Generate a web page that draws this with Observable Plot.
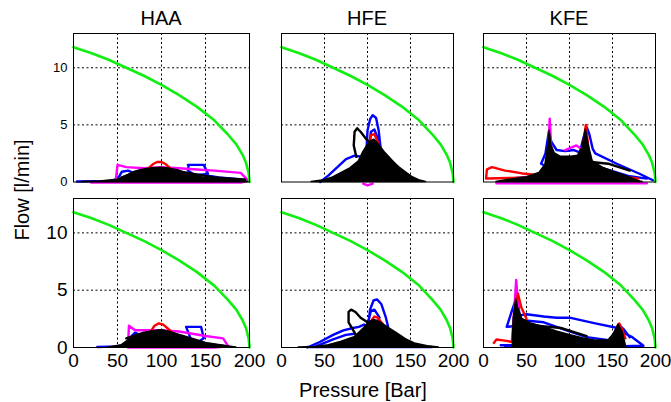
<!DOCTYPE html>
<html><head><meta charset="utf-8">
<script src="https://cdn.jsdelivr.net/npm/d3@7"></script>
<script src="https://cdn.jsdelivr.net/npm/@observablehq/plot@0.6"></script>
<style>
body{margin:0;background:#fff;font-family:"Liberation Sans",Arial,sans-serif;}
#wrap{position:relative;width:671px;height:402px;overflow:hidden;background:#fff;}
.lbl{position:absolute;color:#000;white-space:nowrap;font-size:20px;line-height:20px;}
.panel{position:absolute;}
</style></head><body><div id="wrap"></div>
<script>
// ---- data: [pressure (Bar), flow (l/min)] ----
const titles = ["HAA", "HFE", "KFE"];
const xTicks = [0, 50, 100, 150, 200];
const yTicks = [0, 5, 10];
const gridX = [50, 100, 150];
const gridY = [5, 10];

const pumpP = [0, 20, 40, 60, 80, 100, 120, 140, 160, 175, 185, 192, 196, 199, 200];
const pumpF = [11.8, 11.3, 10.7, 10.0, 9.3, 8.5, 7.6, 6.6, 5.4, 4.2, 3.3, 2.4, 1.7, 0.8, 0];

// HAA, top row
const haaTopBlue = [[4,0.05],[45,0.1],[52,0.5],[55,0.9],[62,1.0],[68,0.8],[75,0.6],null,[130,1.5],[148,1.5],[153,0.7],[138,0.6],[130,1.0],[131,1.5],null,[150,0.6],[165,0.4],[195,0.2]];
const haaTopMagenta = [[48,0.1],[50,1.5],[60,1.3],[80,1.2],[100,1.3],[120,1.2],[140,1.1],[160,1.0],[190,0.8],[199,0.1],[190,-0.05],[100,-0.05],[20,-0.05],[48,0.1]];
const haaTopRed = [[85,1.2],[90,1.55],[95,1.75],[100,1.75],[105,1.55],[110,1.2]];
const haaTopBlack = [[10,0],[30,0.05],[50,0.2],[60,0.5],[70,0.9],[80,1.1],[90,1.2],[100,1.25],[110,1.15],[120,1.0],[130,0.7],[140,0.5],[150,0.35],[170,0.2],[190,0.1],[198,0]];
const haaTopBlackLine = [[55,0.4],[75,1.0],[100,1.2],[130,0.8],[160,0.4],[195,0.2]];

// HAA, bottom row
const haaBotBlue = [[27,0.05],[50,0.1],[60,0.3],[65,0.9],[70,1.3],[78,1.0],[85,0.8],null,[128,1.8],[145,1.8],[148,0.8],[140,0.4],[133,0.8],[128,1.8]];
const haaBotMagenta = [[62,0.2],[63,1.9],[70,1.5],[80,1.5],[100,1.5],[120,1.4],[150,1.0],[170,0.8],[176,0.1],[160,0.0],[62,0.0]];
const haaBotRed = [[88,1.4],[92,1.9],[97,2.1],[102,2.0],[108,1.6],[112,1.3]];
const haaBotBlack = [[40,0],[55,0.2],[62,0.6],[70,0.9],[80,1.2],[90,1.4],[100,1.5],[110,1.35],[120,1.1],[130,0.8],[140,0.5],[150,0.3],[170,0.15],[185,0]];
const haaBotBlackLine = [[60,0.8],[80,1.3],[100,1.5],[125,1.0],[150,0.4],[175,0.1]];

// HFE, top row
const hfeTopBlue = [[98,1.5],[100,4.5],[103,5.5],[106,5.85],[110,5.6],[113,4.5],[116,2.5],[118,1.5],null,[100,2.0],[104,4.4],[108,4.6],[112,3.8],[118,1.5],null,[45,0],[55,0.6],[65,1.3],[75,2.0],[85,2.3],[95,2.2],[100,2.6],null,[55,0.1],[160,0.1]];
const hfeTopMagenta = [[102,2.2],[106,3.6],[110,3.6],[115,2.6],[120,1.5],null,[95,-0.15],[100,-0.3],[106,-0.15]];
const hfeTopRed = [[100,2.0],[104,4.1],[108,4.2],[113,3.3],[118,1.8]];
const hfeTopBlack = [[35,0],[50,0.15],[60,0.4],[70,0.8],[80,1.2],[90,1.8],[95,2.6],[100,3.2],[105,3.6],[108,3.7],[112,3.4],[120,2.6],[130,1.8],[140,1.0],[150,0.5],[160,0.15],[168,0]];
const hfeTopBlackLine = [[87,2.2],[84,3.2],[85,4.4],[88,4.7],[92,4.4],[98,3.8],[105,3.3],[115,2.6],[125,2.0],[136,1.3],[150,0.5]];

// HFE, bottom row
const hfeBotBlue = [[100,1.5],[103,3.3],[107,4.1],[111,4.2],[116,3.8],[121,2.7],[124,1.8],null,[100,2.0],[104,3.2],[108,3.3],[114,2.6],null,[30,0],[45,0.5],[60,1.1],[72,1.5],[83,1.7],[90,1.8],[96,2.0],[100,1.8],null,[40,0.1],[60,0.7],[75,1.1],[85,1.2],null,[30,0.05],[175,0.05]];
const hfeBotMagenta = [[106,2.1],[112,2.4],[118,1.8],[124,1.2]];
const hfeBotRed = [[104,2.3],[108,2.7],[112,2.6],[118,2.0],[122,1.5]];
const hfeBotBlack = [[20,0],[40,0.05],[55,0.2],[70,0.5],[85,0.9],[95,1.6],[102,2.2],[108,2.4],[115,2.2],[125,1.7],[135,1.2],[145,0.7],[155,0.35],[170,0.1],[183,0]];
const hfeBotBlackLine = [[89,0.8],[78,2.2],[78,3.1],[81,3.3],[86,3.1],[92,2.6],[100,2.2],[110,1.9],[120,1.5],[135,0.9],[151,0.35]];

// KFE, top row
const kfeTopBlue = [[67,1.6],[72,2.5],[76,4.4],[79,3.5],[85,2.8],[95,2.7],[105,2.8],[112,2.6],[116,3.8],[120,4.8],[123,4.2],[127,2.9],[130,2.5],[155,1.6],[182,0.7],[197,0.15],null,[67,1.6],[72,1.4],[82,1.2],null,[30,0.3],[60,0.5],[75,0.8],null,[130,1.4],[170,0.5],[190,0.3]];
const kfeTopMagenta = [[75,2.5],[77,5.55],[79,2.5],null,[15,-0.12],[190,-0.12],null,[95,2.8],[108,3.2],[112,3.0]];
const kfeTopRed = [[3,0.3],[4,1.1],[10,1.3],[25,1.0],[45,0.75],[65,0.6],null,[4,0.3],[30,0.35],[55,0.4],null,[115,2.8],[119,5.0],[122,3.0],null,[150,0.6],[180,0.3]];
const kfeTopBlack = [[15,0],[30,0.2],[50,0.4],[65,0.8],[72,1.5],[75,3.0],[77,4.5],[79,3.2],[83,2.5],[90,2.2],[100,2.2],[110,2.3],[115,3.0],[119,4.6],[122,3.3],[127,1.8],[140,1.2],[155,0.8],[170,0.4],[180,0.1],[185,0]];
const kfeTopBlackLine = [[120,1.8],[145,1.6],[170,1.0]];

// KFE, bottom row
const kfeBotBlue = [[27,1.8],[33,3.2],[39,4.5],[42,2.8],[50,2.9],[70,2.7],[85,2.6],[100,2.6],[130,2.1],[156,1.7],[165,1.2],[173,0.9],[186,0.15],[150,0.1],[25,0.1],null,[27,1.8],[40,1.9],[48,1.7],null,[42,2.4],[70,2.2],[100,1.4],[120,0.9],[150,0.6],null,[150,1.0],[157,2.0],[163,1.6],[170,0.9],null,[20,0.2],[35,0.2]];
const kfeBotMagenta = [[33,0.6],[36,3.5],[38,5.9],[40,4.0],[42,2.0]];
const kfeBotRed = [[12,0.4],[15,0.7],[25,0.6],[32,0.5],null,[37,3.0],[40,4.7],[44,3.5],[50,2.5],null,[150,0.8],[155,1.7],[158,2.1],[161,1.6],[165,0.8]];
const kfeBotBlack = [[34,0],[35,2.5],[38,4.2],[40,3.5],[45,2.5],[55,2.1],[70,1.8],[85,1.4],[100,1.1],[115,0.8],[130,0.6],[145,0.6],[152,1.2],[157,2.0],[162,1.3],[166,0]];
const kfeBotBlackLine = [[45,1.5],[80,1.3],[110,0.8],[150,0.3],null,[50,2.0],[90,1.7],[120,1.0]];

// ---- layout ----
const panels = [
  {col:0,row:0,blue:haaTopBlue,magenta:haaTopMagenta,red:haaTopRed,black:haaTopBlack,blackLine:haaTopBlackLine},
  {col:1,row:0,blue:hfeTopBlue,magenta:hfeTopMagenta,red:hfeTopRed,black:hfeTopBlack,blackLine:hfeTopBlackLine},
  {col:2,row:0,blue:kfeTopBlue,magenta:kfeTopMagenta,red:kfeTopRed,black:kfeTopBlack,blackLine:kfeTopBlackLine},
  {col:0,row:1,blue:haaBotBlue,magenta:haaBotMagenta,red:haaBotRed,black:haaBotBlack,blackLine:haaBotBlackLine},
  {col:1,row:1,blue:hfeBotBlue,magenta:hfeBotMagenta,red:hfeBotRed,black:hfeBotBlack,blackLine:hfeBotBlackLine},
  {col:2,row:1,blue:kfeBotBlue,magenta:kfeBotMagenta,red:kfeBotRed,black:kfeBotBlack,blackLine:kfeBotBlackLine}
];
const colsPx = [[73,249],[281,453],[483,655]];
const rowsPx = [[33,181.5],[198,347]];

const wrap = document.getElementById("wrap");
const pump = pumpP.map((p,i)=>[p,pumpF[i]]);
const px = d => d ? d[0] : NaN;
const py = d => d ? d[1] : NaN;

for (const pn of panels) {
  const [l,r] = colsPx[pn.col];
  const [t,b] = rowsPx[pn.row];
  const ml = pn.col === 0 ? 50 : 1;
  const mr = 1, mt = 1;
  const mb = pn.row === 1 ? 30 : 1;
  const fs = pn.row === 1 ? 19 : 13;
  const lineOpts = (data, c) => Plot.line(data, {x:px, y:py, stroke:c, strokeWidth:2.4, curve:"linear"});
  const chart = Plot.plot({
    width: (r-l)+ml+mr,
    height: (b-t)+mt+mb,
    marginLeft: ml, marginRight: mr, marginTop: mt, marginBottom: mb,
    style: {background:"transparent", overflow:"visible", fontSize: fs+"px", fontFamily:'"Liberation Sans", Arial, sans-serif', color:"#000"},
    x: {domain:[0,200], ticks:xTicks, tickSize:0, tickPadding:6, axis: pn.row===1 ? "bottom" : null, label:null, tickFormat:d=>String(d)},
    y: {domain:[0,13], ticks:yTicks, tickSize:0, tickPadding:6, axis: pn.col===0 ? "left" : null, label:null, tickFormat:d=>String(d)},
    marks: [
      Plot.ruleX(gridX, {stroke:"#000", strokeWidth:1, strokeDasharray:"2,2.5"}),
      Plot.ruleY(gridY, {stroke:"#000", strokeWidth:1, strokeDasharray:"2,2.5"}),
      lineOpts(pn.blue, "#0000ff"),
      lineOpts(pn.magenta, "#ff00ff"),
      lineOpts(pn.red, "#ff0000"),
      Plot.areaY(pn.black, {x:px, y:py, fill:"#000", stroke:"#000", strokeWidth:1.5}),
      lineOpts(pn.blackLine, "#000"),
      Plot.line(pump, {x:px, y:py, stroke:"#11ee11", strokeWidth:2.6}),
      Plot.frame({stroke:"#000", strokeWidth:1})
    ]
  });
  chart.classList.add("panel");
  chart.style.left = (l-ml)+"px";
  chart.style.top = (t-mt)+"px";
  wrap.appendChild(chart);
}

// titles and axis labels
titles.forEach((s,i)=>{
  const d = document.createElement("div");
  d.className = "lbl";
  d.textContent = s;
  const cx = (colsPx[i][0]+colsPx[i][1])/2;
  d.style.left = cx+"px"; d.style.top = "8px"; d.style.transform = "translateX(-50%)";
  wrap.appendChild(d);
});
const xl = document.createElement("div");
xl.className = "lbl"; xl.textContent = "Pressure [Bar]";
xl.style.left = "363px"; xl.style.top = "380px"; xl.style.transform = "translateX(-50%)";
wrap.appendChild(xl);
const yl = document.createElement("div");
yl.className = "lbl"; yl.textContent = "Flow [l/min]";
yl.style.left = "22px"; yl.style.top = "190px";
yl.style.transform = "translate(-50%,-50%) rotate(-90deg)";
wrap.appendChild(yl);
</script></body></html>
